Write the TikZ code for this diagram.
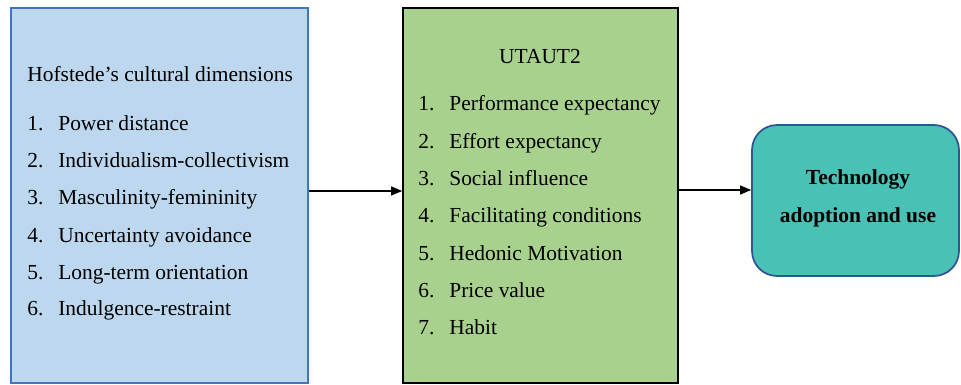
\documentclass[tikz,border=0pt]{standalone}
\usepackage{fontspec}
\setmainfont{Liberation Serif}
\usetikzlibrary{arrows.meta}
\definecolor{hofblue}{HTML}{BDD7EE}
\definecolor{hofedge}{HTML}{4472C4}
\definecolor{utgreen}{HTML}{A9D18E}
\definecolor{techteal}{HTML}{49C1B5}
\definecolor{techedge}{HTML}{2F5597}
\tikzset{
  panel/.style={draw, line width=1pt, inner sep=0pt},
  item/.style={anchor=base west, inner sep=0pt},
  link/.style={-{Triangle[length=0.22cm,width=0.18cm]}, line width=0.6pt}
}
\begin{document}
\begin{tikzpicture}[x=0.02cm, y=-0.02cm, font=\fontsize{12.2}{14}\selectfont]
\useasboundingbox (0,0) rectangle (961,385);
\path node[panel, draw=hofedge, fill=hofblue, minimum width=5.94cm, minimum height=7.5cm] (hof) at (159.5,195.5) {}
node[panel, draw=black, fill=utgreen, minimum width=5.5cm, minimum height=7.5cm] (utaut) at (540.5,195.5) {}
node[panel, draw=techedge, fill=techteal, rounded corners=0.5cm, minimum width=4.14cm, minimum height=3.02cm] (tech) at (855.5,200.5) {}
;
% left list
\node[item] (hoftitle) at (27,82) {Hofstede’s cultural dimensions};
\foreach \n/\t [count=\i from 0] in {1/Power distance, 2/Individualism-collectivism, 3/Masculinity-femininity, 4/Uncertainty avoidance, 5/Long-term orientation, 6/Indulgence-restraint}{
  \node[item] (hofnum\n) at (27,131+37*\i) {\n.};
  \node[item] (hof\n) at (58,131+37*\i) {\t};
}
% middle list
\node[anchor=base, inner sep=0pt] (uttitle) at (540,64) {UTAUT2};
\foreach \n/\t [count=\i from 0] in {1/Performance expectancy, 2/Effort expectancy, 3/Social influence, 4/Facilitating conditions, 5/Hedonic Motivation, 6/Price value, 7/Habit}{
  \node[item] (utnum\n) at (418,111+37.33*\i) {\n.};
  \node[item] (ut\n) at (449,111+37.33*\i) {\t};
}
% outcome
\node[anchor=base, inner sep=0pt, font=\fontsize{12.2}{14}\selectfont\bfseries] (techa) at (858,185) {Technology};
\node[anchor=base, inner sep=0pt, font=\fontsize{12.2}{14}\selectfont\bfseries] (techb) at (858,222) {adoption and use};
\draw[link] ([yshift=0.09cm]hof.east) coordinate (h) -- (h -| utaut.west);
\draw[link] ([yshift=0.11cm]utaut.east) coordinate (u) -- (u -| tech.west);
\end{tikzpicture}
\end{document}
